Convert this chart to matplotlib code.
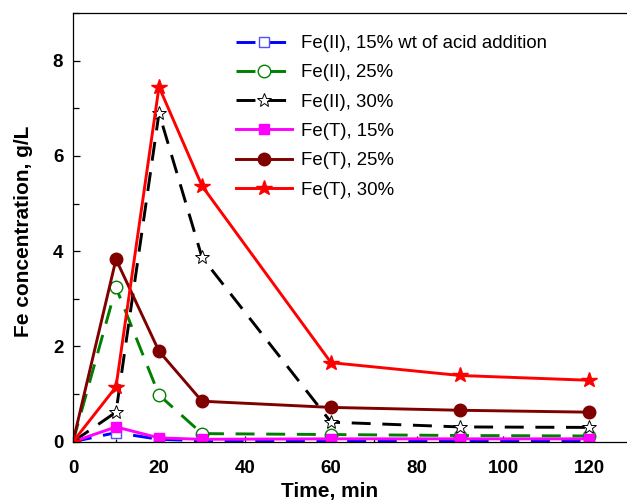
import matplotlib

matplotlib.use("Agg")
import matplotlib.pyplot as plt
from matplotlib.ticker import MultipleLocator

plt.rcParams["font.family"] = ["Liberation Sans", "DejaVu Sans"]

# sampling times, min
time_min = [0, 10, 20, 30, 60, 90, 120]

# Fe concentration, g/L
fe2_15 = [0.0, 0.19, 0.05, 0.02, 0.02, 0.02, 0.02]
fe2_25 = [0.0, 3.24, 0.98, 0.17, 0.15, 0.13, 0.12]
fe2_30 = [0.0, 0.62, 6.90, 3.87, 0.41, 0.31, 0.30]
feT_15 = [0.0, 0.31, 0.08, 0.05, 0.06, 0.06, 0.06]
feT_25 = [0.0, 3.83, 1.90, 0.85, 0.72, 0.66, 0.62]
feT_30 = [0.0, 1.15, 7.45, 5.37, 1.66, 1.39, 1.29]

labels = [
    "Fe(II), 15% wt of acid addition",
    "Fe(II), 25%",
    "Fe(II), 30%",
    "Fe(T), 15%",
    "Fe(T), 25%",
    "Fe(T), 30%",
]

DASH = (0, (6.5, 4))
LW = 2.1

fig = plt.figure(figsize=(6.27, 5), dpi=100)
# axes run off the right edge, as in the cropped original
ax = fig.add_axes([73 / 627, 58.3 / 500, 559 / 627, 428.7 / 500])

ax.plot(time_min, fe2_15, color="#0000ff", ls=DASH, lw=LW, marker="s", ms=7,
        mfc="white", mec="#5050ff", mew=1.0, label=labels[0])
ax.plot(time_min, fe2_25, color="#008000", ls=DASH, lw=LW, marker="o", ms=9,
        mfc="white", mec="#008000", mew=1.0, label=labels[1])
ax.plot(time_min, fe2_30, color="black", ls=DASH, lw=LW, marker="*", ms=10.5,
        mfc="white", mec="black", mew=0.7, label=labels[2])
ax.plot(time_min, feT_15, color="#ff00ff", ls="-", lw=LW, marker="s", ms=7,
        mfc="#ff00ff", mec="#ff00ff", label=labels[3])
ax.plot(time_min, feT_25, color="#800000", ls="-", lw=LW, marker="o", ms=9,
        mfc="#800000", mec="#800000", label=labels[4])
ax.plot(time_min, feT_30, color="#ff0000", ls="-", lw=LW, marker="*", ms=11.5,
        mfc="#ff0000", mec="#ff0000", label=labels[5])

ax.set_xlim(0, 130)
ax.set_ylim(0, 9)
ax.xaxis.set_major_locator(MultipleLocator(20))
ax.xaxis.set_minor_locator(MultipleLocator(10))
ax.yaxis.set_major_locator(MultipleLocator(2))
ax.yaxis.set_minor_locator(MultipleLocator(1))

ax.tick_params(axis="both", which="both", direction="in", width=0.9)
ax.tick_params(axis="y", which="major", length=5, pad=7)
ax.tick_params(axis="y", which="minor", length=4)
ax.tick_params(axis="x", which="major", length=4, pad=13)
ax.tick_params(axis="x", which="minor", length=2.5)
for lab in ax.get_xticklabels() + ax.get_yticklabels():
    lab.set_fontweight("bold")
    lab.set_fontsize(13.5)
for sp in ax.spines.values():
    sp.set_linewidth(0.9)

ax.set_ylabel("Fe concentration, g/L", fontsize=15, fontweight="bold")
ax.yaxis.set_label_coords((33 - 73) / 559, 0.49)
ax.set_xlabel("Time, min", fontsize=15, fontweight="bold", va="top")
ax.xaxis.set_label_coords((330 - 73) / 559, -0.094)

ax.legend(loc="upper left", bbox_to_anchor=(236 / 627, 1 - 35 / 500),
          bbox_transform=fig.transFigure, frameon=False, fontsize=13.4,
          handlelength=3.0, handletextpad=0.5, labelspacing=0.66,
          borderpad=0, borderaxespad=0)

fig.savefig("out.png", dpi=100)
